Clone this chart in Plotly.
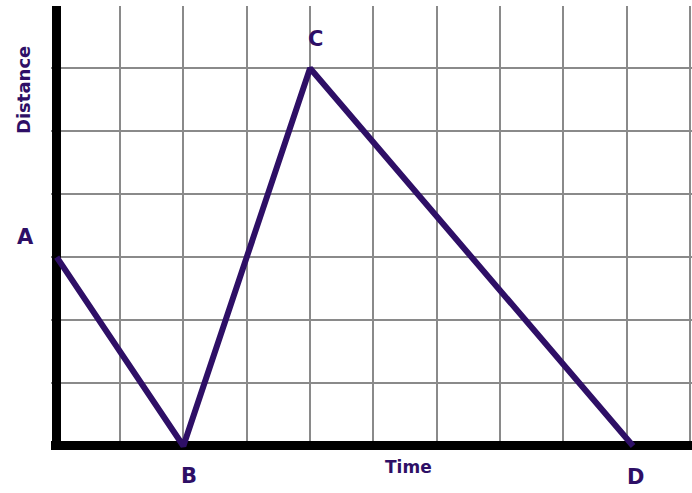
"""Distance-time graph: A -> B -> C -> D on a square grid, thick black axes."""
import plotly.graph_objects as go

# journey points (time units, distance units)
labels = ["A", "B", "C", "D"]
time = [0, 2, 4, 9.1]
distance = [3, 0, 6, 0]

# label offsets in px from each point
label_dx = [-31, 6, 5, 2]
label_dy = [20, -30, 29, -31]

PURPLE = "#2e0f66"
FONT = "DejaVu Sans"

fig = go.Figure()
fig.add_trace(go.Scatter(
    x=time, y=distance, mode="lines",
    line=dict(color=PURPLE, width=6), showlegend=False, hoverinfo="skip"))

annotations = [
    dict(x=t, y=d, text=f"<b>{lab}</b>", showarrow=False,
         xanchor="center", yanchor="middle",
         xshift=dx, yshift=dy, font=dict(family=FONT, size=21, color=PURPLE))
    for lab, t, d, dx, dy in zip(labels, time, distance, label_dx, label_dy)
]
annotations += [
    dict(x=0.5585, y=-0.038, xref="paper", yref="paper", text="<b>Time</b>",
         xanchor="center", yanchor="middle", showarrow=False,
         font=dict(family=FONT, size=17, color=PURPLE)),
    dict(x=-0.042, y=0.811, xref="paper", yref="paper", text="<b>Distance</b>",
         xanchor="center", yanchor="middle", textangle=-90, showarrow=False,
         font=dict(family=FONT, size=18, color=PURPLE)),
]

axis_common = dict(showticklabels=False, ticks="", showline=False,
                   showgrid=True, gridcolor="#8a8a8a", gridwidth=2,
                   zeroline=True, zerolinecolor="black", zerolinewidth=9,
                   dtick=1, tick0=0, fixedrange=True)

fig.update_layout(
    width=692, height=493,
    paper_bgcolor="white", plot_bgcolor="white",
    margin=dict(l=51, r=0, t=6, b=43),
    xaxis=dict(range=[-0.09, 10.03], **axis_common),
    yaxis=dict(range=[-0.064, 6.99], **axis_common),
    annotations=annotations,
)

# page body has a default 8px margin; drop it so the figure fills the window
fig.write_html("out.html", config={"displayModeBar": False},
               post_script="document.body.style.margin = '0';")
